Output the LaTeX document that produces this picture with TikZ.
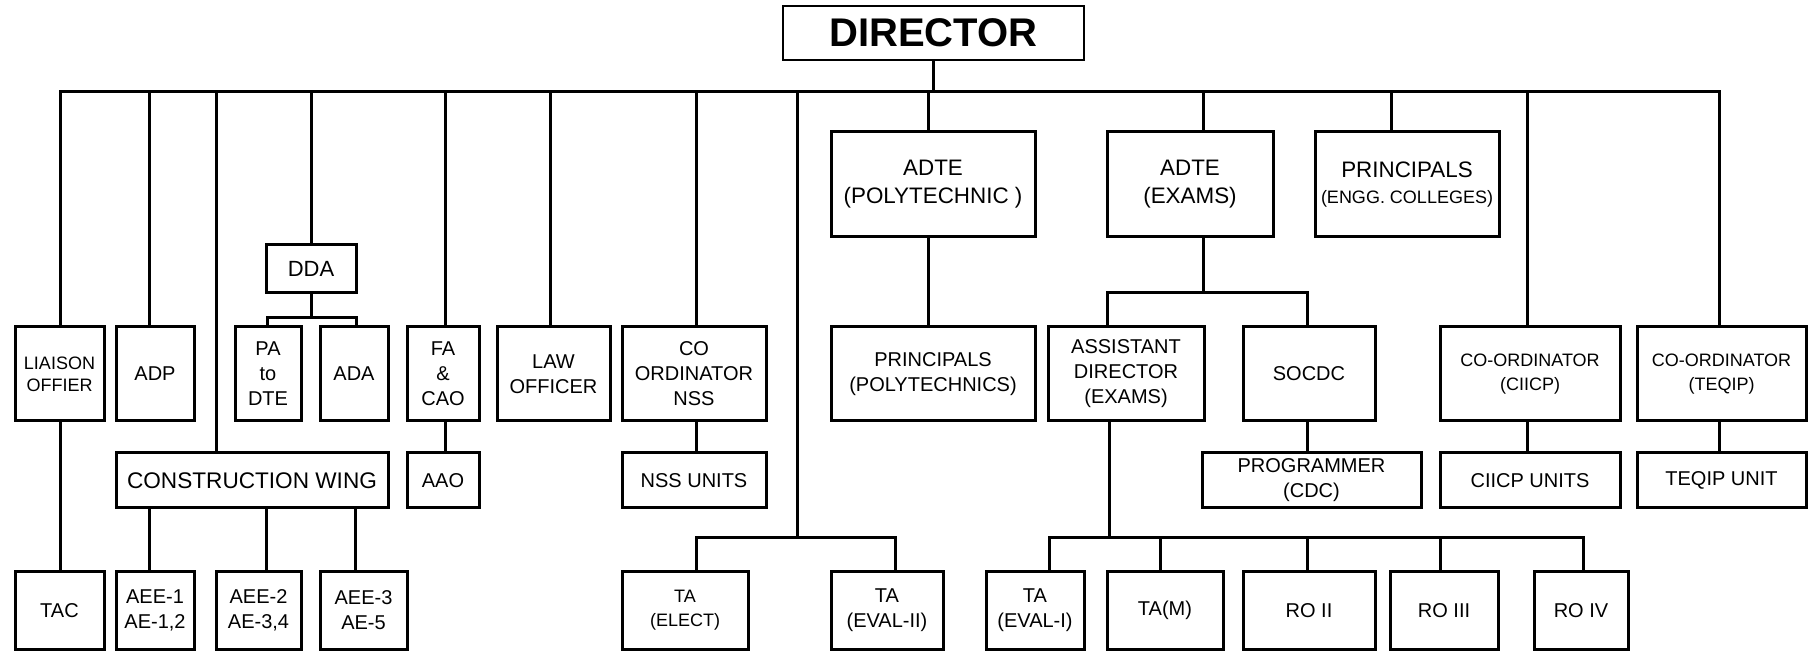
\documentclass[tikz,border=0pt]{standalone}
\usepackage{fontspec}
\setmainfont{Liberation Sans}
\newcommand\obox[7][]{\node[box,#1,minimum width={(#5-#3)*0.5pt},minimum height={(#6-#4)*0.5pt}] (#2) at ({(#3+#5)/2},{(#4+#6)/2}) {#7};}
\newcommand\vcon[3]{\path (#1,0) coordinate (vx); \draw[con] (vx |- #2) -- (vx |- #3);}
\begin{document}
\begin{tikzpicture}[x=0.5pt,y=-0.5pt,
  box/.style={draw,line width=1.5pt,align=center,inner sep=1pt,font=\fontsize{10}{12.5}\selectfont},
  con/.style={line width=1.5pt,line cap=rect}]
\useasboundingbox (0,0) rectangle (1809,651);

% top
\obox[font=\fontsize{20}{24}\selectfont\bfseries,line width=1.3pt]{dir}{783}{6}{1084}{60}{DIRECTOR}

% row 1
\obox[font=\fontsize{11.2}{14}\selectfont]{adtep}{831}{132}{1035}{237}{ADTE\\(POLYTECHNIC )}
\obox[font=\fontsize{11.2}{14}\selectfont]{adtee}{1107}{132}{1273}{237}{ADTE\\(EXAMS)}
\obox[font=\fontsize{11.2}{13}\selectfont]{pengg}{1315}{132}{1499}{237}{PRINCIPALS\\{\fontsize{9}{11}\selectfont (ENGG. COLLEGES)}}
\obox[font=\fontsize{11}{13}\selectfont]{dda}{266}{245}{356}{293}{DDA}

% row 2
\obox[font=\fontsize{9}{11}\selectfont]{liaison}{15}{327}{104}{421}{LIAISON\\OFFIER}
\obox{adp}{116}{327}{194}{421}{ADP}
\obox{pa}{235}{327}{301}{421}{PA\\to\\DTE}
\obox{ada}{320}{327}{388}{421}{ADA}
\obox{fa}{407}{327}{479}{421}{FA\\\&\\CAO}
\obox{law}{497}{327}{610}{421}{LAW\\OFFICER}
\obox{conss}{622}{327}{766}{421}{CO\\ORDINATOR\\NSS}
\obox{ppoly}{831}{327}{1035}{421}{PRINCIPALS\\(POLYTECHNICS)}
\obox{ad}{1048}{327}{1204}{421}{ASSISTANT\\DIRECTOR\\(EXAMS)}
\obox{socdc}{1243}{327}{1375}{421}{SOCDC}
\obox[font=\fontsize{9}{12}\selectfont]{ciicp}{1440}{327}{1620}{421}{CO-ORDINATOR\\(CIICP)}
\obox[font=\fontsize{9}{12}\selectfont]{teqip}{1637}{327}{1806}{421}{CO-ORDINATOR\\(TEQIP)}

% row 3
\obox[font=\fontsize{11.3}{13}\selectfont]{cw}{116}{453}{388}{508}{CONSTRUCTION WING}
\obox{aao}{407}{453}{479}{508}{AAO}
\obox{nssu}{622}{453}{766}{508}{NSS UNITS}
\obox{prog}{1202}{453}{1421}{508}{PROGRAMMER\\(CDC)}
\obox{ciicpu}{1440}{453}{1620}{508}{CIICP UNITS}
\obox{teqipu}{1637}{453}{1806}{508}{TEQIP UNIT}

% row 4
\obox{tac}{15}{572}{104}{649}{TAC}
\obox{aee1}{116}{572}{194}{649}{AEE-1\\AE-1,2}
\obox{aee2}{216}{572}{301}{649}{AEE-2\\AE-3,4}
\obox{aee3}{320}{572}{407}{649}{AEE-3\\AE-5}
\obox[font=\fontsize{9}{12}\selectfont]{tael}{622}{572}{748}{649}{TA\\(ELECT)}
\obox{taev2}{831}{572}{943}{649}{TA\\(EVAL-II)}
\obox{taev1}{986}{572}{1084}{649}{TA\\(EVAL-I)}
\obox{tam}{1107}{572}{1223}{649}{TA(M)}
\obox{rotwo}{1243}{572}{1375}{649}{RO II}
\obox{rothree}{1390}{572}{1498}{649}{RO III}
\obox{rofour}{1534}{572}{1628}{649}{RO IV}

% main bus
\coordinate (busL) at (60,92);
\coordinate (busR) at (1719,92);
\draw[con] (busL) -- (busR);
\draw[con] (dir.south) -- (dir.south |- busL);

% taps from main bus
\vcon{60}{busL}{liaison.north}
\vcon{149}{busL}{adp.north}
\vcon{216}{busL}{cw.north}
\vcon{311}{busL}{dda.north}
\vcon{445}{busL}{fa.north}
\vcon{550}{busL}{law.north}
\vcon{696}{busL}{conss.north}
\vcon{928}{busL}{adtep.north}
\vcon{1203}{busL}{adtee.north}
\vcon{1391}{busL}{pengg.north}
\vcon{1527}{busL}{ciicp.north}
\vcon{1719}{busL}{teqip.north}

% liaison -> TAC
\vcon{60}{liaison.south}{tac.north}

% DDA -> PA, ADA
\coordinate (ddabus) at (311,318);
\vcon{311}{dda.south}{ddabus}
\coordinate (ddaL) at (267,318);
\coordinate (ddaR) at (356,318);
\draw[con] (ddaL) -- (ddaR);
\draw[con] (ddaL) -- (ddaL |- pa.north);
\draw[con] (ddaR) -- (ddaR |- ada.north);

% construction wing -> AEEs
\vcon{149}{cw.south}{aee1.north}
\vcon{266}{cw.south}{aee2.north}
\vcon{355}{cw.south}{aee3.north}

% FA -> AAO ; NSS
\vcon{445}{fa.south}{aao.north}
\vcon{696}{conss.south}{nssu.north}

% TA branch
\coordinate (taL) at (696,538);
\coordinate (taR) at (895,538);
\vcon{797}{busL}{taL}
\draw[con] (taL) -- (taR);
\draw[con] (taL) -- (taL |- tael.north);
\draw[con] (taR) -- (taR |- taev2.north);

% ADTE poly -> principals
\vcon{928}{adtep.south}{ppoly.north}

% ADTE exams
\coordinate (exL) at (1107,293);
\coordinate (exR) at (1307,293);
\vcon{1203}{adtee.south}{exL}
\draw[con] (exL) -- (exR);
\draw[con] (exL) -- (exL |- ad.north);
\draw[con] (exR) -- (exR |- socdc.north);
\vcon{1307}{socdc.south}{prog.north}

% assistant director branch
\coordinate (adL) at (1049,538);
\coordinate (adR) at (1583,538);
\vcon{1109}{ad.south}{adL}
\draw[con] (adL) -- (adR);
\draw[con] (adL) -- (adL |- taev1.north);
\vcon{1160}{adL}{tam.north}
\vcon{1307}{adL}{rotwo.north}
\vcon{1440}{adL}{rothree.north}
\draw[con] (adR) -- (adR |- rofour.north);

% coordinators
\vcon{1527}{ciicp.south}{ciicpu.north}
\vcon{1719}{teqip.south}{teqipu.north}
\end{tikzpicture}
\end{document}
